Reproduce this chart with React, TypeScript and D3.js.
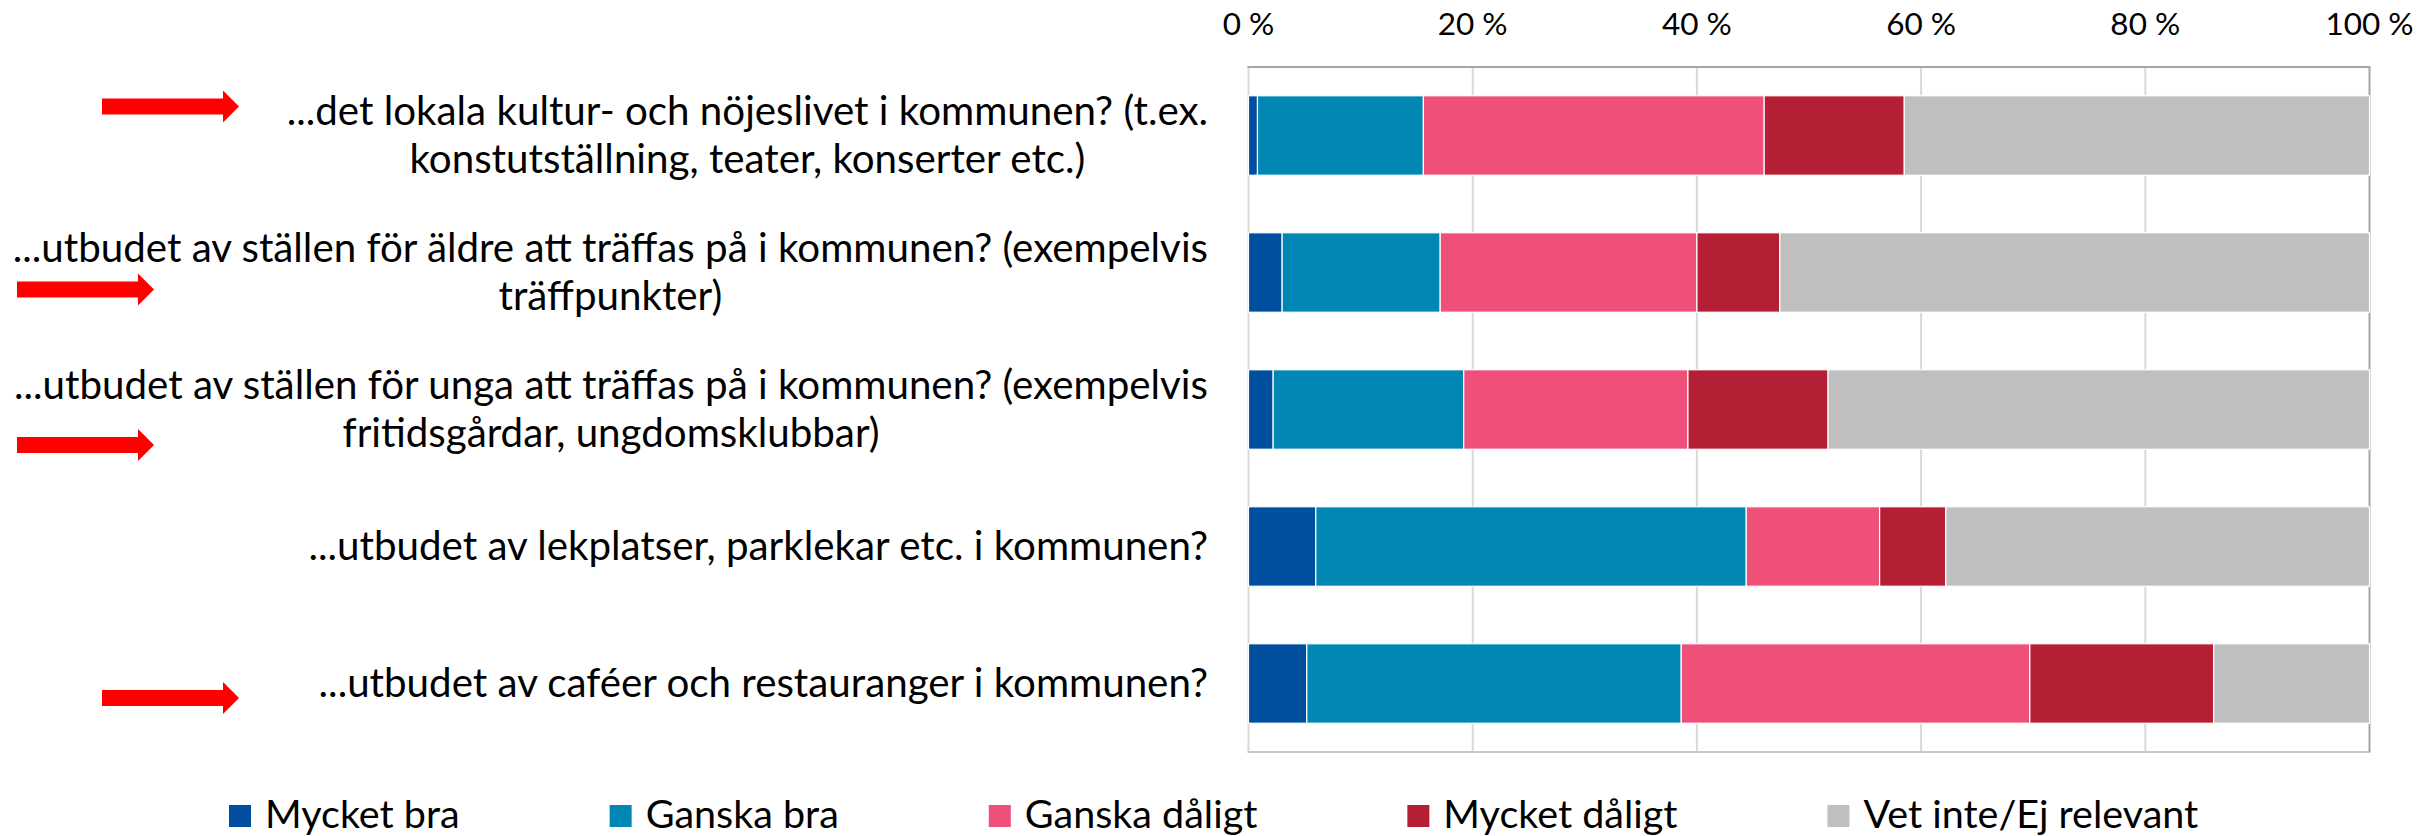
import React, { useEffect, useRef } from 'react';
import * as d3 from 'd3';

// ---- data ----
const categories: string[][] = [
  ['...det lokala kultur- och nöjeslivet i kommunen? (t.ex.', 'konstutställning, teater, konserter etc.)'],
  ['...utbudet av ställen för äldre att träffas på i kommunen? (exempelvis', 'träffpunkter)'],
  ['...utbudet av ställen för unga att träffas på i kommunen? (exempelvis', 'fritidsgårdar, ungdomsklubbar)'],
  ['...utbudet av lekplatser, parklekar etc. i kommunen?'],
  ['...utbudet av caféer och restauranger i kommunen?'],
];
const seriesNames = ['Mycket bra', 'Ganska bra', 'Ganska dåligt', 'Mycket dåligt', 'Vet inte/Ej relevant'];
const mycketBra = [0.8, 3.0, 2.2, 6.0, 5.2];
const ganskaBra = [14.8, 14.1, 17.0, 38.4, 33.4];
const ganskaDaligt = [30.4, 22.9, 20.0, 11.9, 31.1];
const mycketDaligt = [12.5, 7.4, 12.5, 5.9, 16.4];
const vetInte = [41.5, 52.6, 48.3, 37.8, 13.9];
const tickValues = [0, 20, 40, 60, 80, 100];
const seriesColors = ['#004F9F', '#0087B4', '#EF5079', '#B41F35', '#BFBFBF'];

// annotation arrows (category index, left x, vertical offset from band centre)
const arrowCategories = [0, 1, 2, 4];
const arrowLeft = [102, 17, 17, 102];
const arrowDy = [-29, 17, 35.5, 14.5];

const W = 2417;
const H = 836;
const FONT = 'Lato, "Open Sans", sans-serif';

export default function App() {
  const ref = useRef<SVGSVGElement>(null);

  useEffect(() => {
    const svg = d3.select(ref.current);
    svg.selectAll('*').remove();

    const x = d3.scaleLinear().domain([0, 100]).range([1248.5, 2369.5]);
    const y = d3
      .scaleBand<number>()
      .domain(categories.map((_, i) => i))
      .range([67, 752])
      .paddingInner(0.42)
      .paddingOuter(0.21);

    const seriesValues = [mycketBra, ganskaBra, ganskaDaligt, mycketDaligt, vetInte];
    const rows = categories.map((_, i) => {
      const r: any = { i };
      seriesNames.forEach((s, k) => (r[s] = seriesValues[k][i]));
      return r;
    });
    const stacked = d3.stack<any>().keys(seriesNames)(rows);

    const g = svg.append('g');

    // grid lines
    g.selectAll('line.grid')
      .data(tickValues.slice(0, -1))
      .enter()
      .append('line')
      .attr('x1', (d) => x(d))
      .attr('x2', (d) => x(d))
      .attr('y1', y.range()[0])
      .attr('y2', y.range()[1])
      .attr('stroke', '#D9D9D9')
      .attr('stroke-width', 2);

    // bottom border
    g.append('line')
      .attr('x1', x(0) - 1)
      .attr('x2', x(100) + 1)
      .attr('y1', 752)
      .attr('y2', 752)
      .attr('stroke', '#C8C8C8')
      .attr('stroke-width', 2);

    // right category axis line
    g.append('line')
      .attr('x1', x(100))
      .attr('x2', x(100))
      .attr('y1', 67)
      .attr('y2', 752)
      .attr('stroke', '#A6A6A6')
      .attr('stroke-width', 2);

    // bars
    stacked.forEach((layer, k) => {
      g.append('g')
        .selectAll('rect')
        .data(layer)
        .enter()
        .append('rect')
        .attr('x', (d) => x(d[0]))
        .attr('width', (d) => Math.min(x(d[1]), x(100)) - x(d[0]))
        .attr('y', (d: any) => y(d.data.i)!)
        .attr('height', y.bandwidth())
        .attr('fill', seriesColors[k])
        .attr('stroke', '#FFFFFF')
        .attr('stroke-width', 1.2);
    });

    // top value axis line
    g.append('line')
      .attr('x1', x(0) - 1)
      .attr('x2', x(100) + 1)
      .attr('y1', 67)
      .attr('y2', 67)
      .attr('stroke', '#A6A6A6')
      .attr('stroke-width', 2);

    // tick labels
    g.selectAll('text.tick')
      .data(tickValues)
      .enter()
      .append('text')
      .attr('x', (d) => x(d))
      .attr('y', 35)
      .attr('text-anchor', 'middle')
      .attr('font-family', FONT)
      .attr('font-size', 31.5)
      .attr('fill', '#000')
      .text((d) => `${d} %`);

    // category labels
    const labelRight = 1208;
    const lineH = 48;
    categories.forEach((lines, i) => {
      const cy = y(i)! + y.bandwidth() / 2;
      const grp = g.append('g');
      const texts = lines.map((ln, j) =>
        grp
          .append('text')
          .attr('y', cy + 13 + (j - (lines.length - 1) / 2) * lineH)
          .attr('text-anchor', 'middle')
          .attr('font-family', FONT)
          .attr('font-size', 40.3)
          .attr('fill', '#000')
          .text(ln)
      );
      const maxW = d3.max(texts, (t) => (t.node() as SVGTextElement).getComputedTextLength()) || 0;
      texts.forEach((t) => t.attr('x', labelRight - maxW / 2));
    });

    // arrows
    arrowCategories.forEach((ci, a) => {
      const cy = y(ci)! + y.bandwidth() / 2 + arrowDy[a];
      const x0 = arrowLeft[a];
      const len = 137;
      const head = 16;
      const sh = 8;
      const hh = 16;
      const path = d3.path();
      path.moveTo(x0, cy - sh);
      path.lineTo(x0 + len - head, cy - sh);
      path.lineTo(x0 + len - head, cy - hh);
      path.lineTo(x0 + len, cy);
      path.lineTo(x0 + len - head, cy + hh);
      path.lineTo(x0 + len - head, cy + sh);
      path.lineTo(x0, cy + sh);
      path.closePath();
      g.append('path').attr('d', path.toString()).attr('fill', '#FF0000');
    });

    // legend
    let lx = 229;
    const ly = 805;
    seriesNames.forEach((s, k) => {
      g.append('rect')
        .attr('x', lx)
        .attr('y', ly)
        .attr('width', 22)
        .attr('height', 22)
        .attr('fill', seriesColors[k]);
      const t = g
        .append('text')
        .attr('x', lx + 36)
        .attr('y', ly + 23)
        .attr('font-family', FONT)
        .attr('font-size', 39.5)
        .attr('fill', '#000')
        .text(s);
      const tw = (t.node() as SVGTextElement).getComputedTextLength();
      lx = lx + 36 + tw + 150;
    });
  }, []);

  return (
    <svg
      ref={ref}
      width={W}
      height={H}
      style={{ position: 'absolute', left: 0, top: 0, background: '#fff' }}
    />
  );
}
